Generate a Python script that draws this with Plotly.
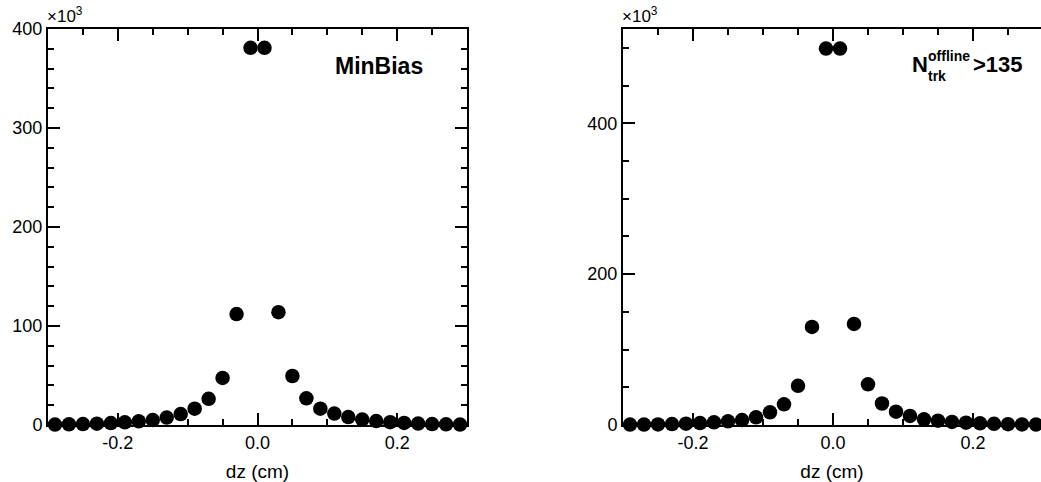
import plotly.graph_objects as go

# bin centres of dz (cm)
dz = [-0.29, -0.27, -0.25, -0.23, -0.21, -0.19, -0.17, -0.15, -0.13, -0.11,
      -0.09, -0.07, -0.05, -0.03, -0.01, 0.01, 0.03, 0.05, 0.07, 0.09,
      0.11, 0.13, 0.15, 0.17, 0.19, 0.21, 0.23, 0.25, 0.27, 0.29]

# counts in units of 10^3
minbias = [0.5, 0.7, 1.0, 1.3, 2.0, 2.7, 3.7, 5.0, 7.5, 11.0,
           16.5, 26.5, 47.5, 112.0, 381.0, 381.0, 114.0, 49.5, 27.0, 16.5,
           11.5, 8.0, 5.5, 4.0, 2.8, 2.1, 1.4, 1.0, 0.7, 0.5]

highmult = [0.5, 0.6, 0.8, 1.2, 1.8, 2.6, 3.5, 4.9, 6.6, 10.2,
            16.8, 27.5, 52.0, 130.0, 499.0, 499.0, 134.0, 54.0, 28.5, 17.6,
            12.0, 7.5, 5.7, 4.0, 3.0, 2.2, 1.5, 1.1, 0.8, 0.5]

xticks = [-0.2, 0.0, 0.2]
xticktext = ["-0.2", "0.0", "0.2"]
left_yticks = [0, 100, 200, 300, 400]
right_yticks = [0, 200, 400]

W, H = 1041, 482
FONT = "Liberation Sans, Arial, Helvetica, sans-serif"


def px(x):
    return x / W


def py(y):
    return 1 - y / H


fig = go.Figure()
marker = dict(color="black", size=14.5, symbol="circle")
fig.add_trace(go.Scatter(x=dz, y=minbias, mode="markers", marker=marker,
                         cliponaxis=False, xaxis="x", yaxis="y", showlegend=False))
fig.add_trace(go.Scatter(x=dz, y=highmult, mode="markers", marker=marker,
                         cliponaxis=False, xaxis="x2", yaxis="y2", showlegend=False))

common_axis = dict(showline=True, linecolor="black", linewidth=2, mirror="ticks",
                   ticks="inside", tickwidth=2, tickcolor="black", showgrid=False,
                   zeroline=False, automargin=False,
                   tickfont=dict(family=FONT, size=18, color="black"))

xcommon = dict(common_axis, tickmode="array", tickvals=xticks, ticktext=xticktext,
               ticklen=12,
               minor=dict(tickmode="linear", tick0=0, dtick=0.05, ticklen=6,
                          ticks="inside", tickwidth=2, tickcolor="black"),
               title=dict(text="dz (cm)", font=dict(family=FONT, size=19, color="black"),
                          standoff=18))

ydom = [py(425), py(29)]
right_end = 1041
right_range_end = -0.3 + 0.6 * (right_end - 623) / 420

fig.update_layout(
    width=W, height=H,
    margin=dict(l=0, r=0, t=0, b=0, autoexpand=False),
    paper_bgcolor="white", plot_bgcolor="white",
    font=dict(family=FONT, color="black"),
    xaxis=dict(xcommon, domain=[px(48), px(467)], range=[-0.3, 0.3], anchor="y"),
    yaxis=dict(common_axis, domain=ydom, range=[0, 400], anchor="x",
               tickmode="array", tickvals=left_yticks, ticklen=12,
               minor=dict(tickmode="linear", tick0=0, dtick=20, ticklen=6,
                          ticks="inside", tickwidth=2, tickcolor="black")),
    xaxis2=dict(xcommon, domain=[px(623), 1.0], range=[-0.3, right_range_end], anchor="y2"),
    yaxis2=dict(common_axis, domain=ydom, range=[0, 525], anchor="x2", mirror=False,
                tickmode="array", tickvals=right_yticks, ticklen=12,
                minor=dict(tickmode="linear", tick0=0, dtick=50, ticklen=6,
                           ticks="inside", tickwidth=2, tickcolor="black")),
    # right-hand tick marks of the second panel (its frame edge lies just off-page)
    yaxis3=dict(overlaying="y2", anchor="free", position=1.0, side="right",
                range=[0, 525], showline=False, showgrid=False, zeroline=False,
                showticklabels=False, ticks="inside", ticklen=10, tickwidth=2,
                tickcolor="black", tickmode="array", tickvals=right_yticks,
                automargin=False,
                minor=dict(tickmode="linear", tick0=0, dtick=50, ticklen=3,
                           ticks="inside", tickwidth=2, tickcolor="black")),
)

ann = []
# x10^3 multipliers
for x0 in (45, 620):
    ann.append(dict(text="×10<sup>3</sup>", x=px(x0), y=py(28), xref="paper", yref="paper",
                    xanchor="left", yanchor="bottom", showarrow=False,
                    font=dict(family=FONT, size=17, color="black")))
# MinBias label
ann.append(dict(text="<b>MinBias</b>", x=px(333), y=py(66), xref="paper", yref="paper",
                xanchor="left", yanchor="middle", showarrow=False,
                font=dict(family=FONT, size=23, color="black")))
# N_trk^offline > 135 label
ann.append(dict(text="<b>N</b>", x=px(910), y=py(65), xref="paper", yref="paper",
                xanchor="left", yanchor="middle", showarrow=False,
                font=dict(family=FONT, size=22, color="black")))
ann.append(dict(text="<b>offline</b>", x=px(926), y=py(56), xref="paper", yref="paper",
                xanchor="left", yanchor="middle", showarrow=False,
                font=dict(family=FONT, size=14, color="black")))
ann.append(dict(text="<b>trk</b>", x=px(926), y=py(76), xref="paper", yref="paper",
                xanchor="left", yanchor="middle", showarrow=False,
                font=dict(family=FONT, size=14, color="black")))
ann.append(dict(text="<b>>135</b>", x=px(971), y=py(65), xref="paper", yref="paper",
                xanchor="left", yanchor="middle", showarrow=False,
                font=dict(family=FONT, size=22, color="black")))
fig.update_layout(annotations=ann)

fig.write_html("out.html", config={"displayModeBar": False},
               post_script="document.body.style.margin='0';document.body.style.overflow='hidden';")
